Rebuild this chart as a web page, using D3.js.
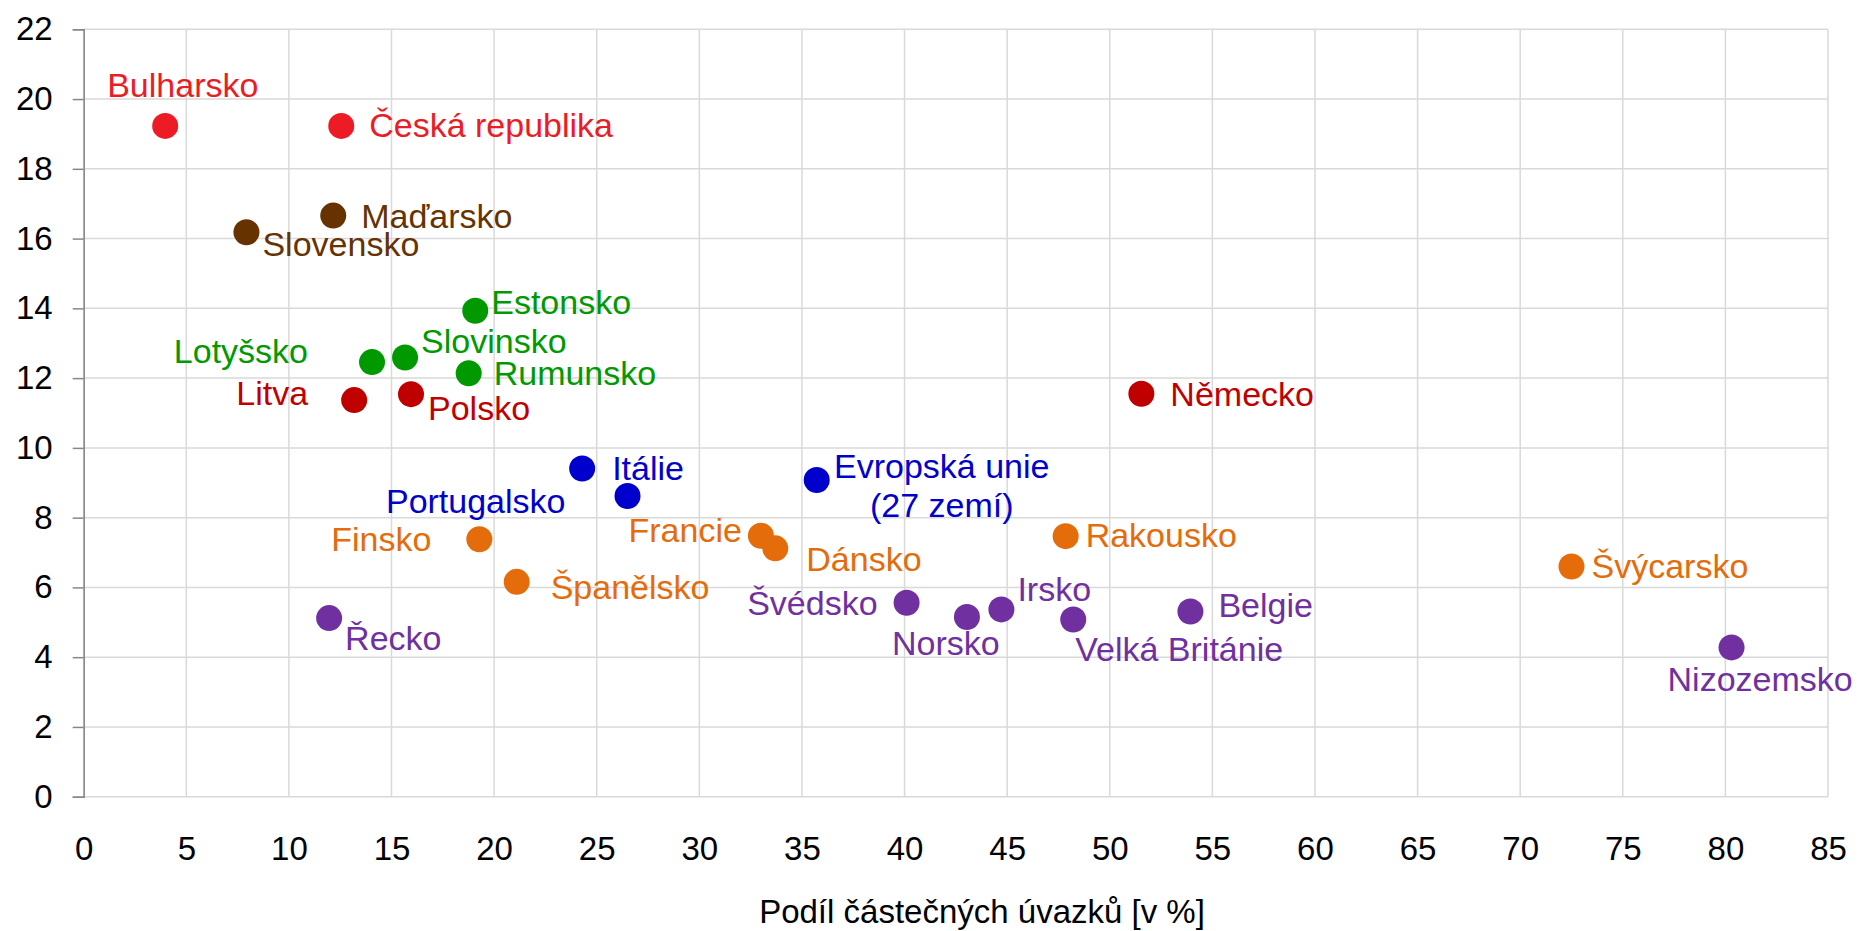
<!DOCTYPE html>
<html>
<head>
<meta charset="utf-8">
<script src="https://cdn.jsdelivr.net/npm/d3@7"></script>
<style>
    html, body { margin: 0; padding: 0; background: #ffffff; }
    svg { display: block; }
    text { font-family: "Liberation Sans", Arial, sans-serif; }
</style>
</head>
<body>
<svg id="chart"></svg>
<script>
// ////////////////////////////////////////////////////////////////
// data
// ////////////////////////////////////////////////////////////////
const countries = [
    'Bulharsko', 'Česká republika', 'Maďarsko', 'Slovensko',
    'Estonsko', 'Lotyšsko', 'Slovinsko', 'Rumunsko',
    'Litva', 'Polsko', 'Německo',
    'Itálie', 'Portugalsko', 'Evropská unie\n(27 zemí)',
    'Francie', 'Dánsko', 'Rakousko', 'Finsko', 'Španělsko', 'Švýcarsko',
    'Řecko', 'Švédsko', 'Norsko', 'Irsko', 'Velká Británie', 'Belgie', 'Nizozemsko'
];
// Podíl částečných úvazků [v %]
const partTimeShare = [
    3.97, 12.55, 12.16, 7.93,
    19.08, 14.05, 15.66, 18.76,
    13.18, 15.95, 51.54,
    24.29, 26.5, 35.72,
    33.0, 33.7, 47.85, 19.28, 21.1, 72.5,
    11.96, 40.1, 43.04, 44.72, 48.22, 53.93, 80.3
];
const yValues = [
    19.23, 19.23, 16.66, 16.18,
    13.93, 12.46, 12.59, 12.14,
    11.37, 11.54, 11.55,
    9.41, 8.62, 9.08,
    7.48, 7.12, 7.47, 7.38, 6.16, 6.6,
    5.12, 5.56, 5.15, 5.37, 5.08, 5.31, 4.28
];
const groups = [
    'red', 'red', 'brown', 'brown',
    'green', 'green', 'green', 'green',
    'darkred', 'darkred', 'darkred',
    'blue', 'blue', 'blue',
    'orange', 'orange', 'orange', 'orange', 'orange', 'orange',
    'purple', 'purple', 'purple', 'purple', 'purple', 'purple', 'purple'
];
const xTicks = d3.range(0, 86, 5);
const yTicks = d3.range(0, 23, 2);
const xTitle = 'Podíl částečných úvazků [v %]';

// label placement relative to the dot: [anchor, dx, dy]
const labelOffsets = [
    ['start', -58, -29], ['start', 28, 11], ['start', 28, 12], ['start', 16, 24],
    ['start', 16, 3], ['end', -64, 1], ['start', 16, -5], ['start', 25, 12],
    ['end', -46, 5], ['start', 17, 26], ['start', 29, 12],
    ['start', 30, 12], ['end', -62, 17], ['middle', 125, -2],
    ['end', -19, 6], ['start', 31, 23], ['start', 20, 11], ['end', -48, 12], ['start', 34, 17], ['start', 20, 12],
    ['start', 16, 32], ['end', -29, 12], ['start', -75, 38], ['start', 16, -8], ['start', 2, 42], ['start', 28, 6], ['start', -64, 44]
];

const colors = {
    red: '#ed1c24',
    brown: '#663300',
    green: '#009900',
    darkred: '#c00000',
    blue: '#0000cc',
    orange: '#e46c0a',
    purple: '#7030a0'
};

// ////////////////////////////////////////////////////////////////
// drawing
// ////////////////////////////////////////////////////////////////
const W = 1858, H = 931;
const margin = { top: 29.3, left: 83.7, right: W - 1828, bottom: H - 796.7 };
const w = W - margin.left - margin.right;
const h = H - margin.top - margin.bottom;

const svg = d3.select('#chart').attr('width', W).attr('height', H);
const g = svg.append('g').attr('transform', `translate(${margin.left},${margin.top})`);

const x = d3.scaleLinear().domain([0, 85]).range([0, w]);
const y = d3.scaleLinear().domain([0, 22]).range([h, 0]);

// grid
g.append('g').attr('class', 'grid-x')
    .selectAll('line').data(xTicks).enter().append('line')
    .attr('x1', (d) => x(d)).attr('x2', (d) => x(d))
    .attr('y1', 0).attr('y2', h)
    .attr('stroke', '#d9d9d9').attr('stroke-width', 1.5);

g.append('g').attr('class', 'grid-y')
    .selectAll('line').data(yTicks).enter().append('line')
    .attr('x1', 0).attr('x2', w)
    .attr('y1', (d) => y(d)).attr('y2', (d) => y(d))
    .attr('stroke', '#d9d9d9').attr('stroke-width', 1.5);

// axes
let xAxis = g.append('g')
    .attr('transform', `translate(0,${h})`)
    .call(d3.axisBottom(x).tickValues(xTicks).tickSize(0).tickPadding(40));
xAxis.select('.domain').remove();
xAxis.selectAll('text')
    .attr('font-size', 33).attr('fill', '#000000')
    .attr('font-family', '"Liberation Sans", Arial, sans-serif');

let yAxis = g.append('g')
    .call(d3.axisLeft(y).tickValues(yTicks).tickSize(11).tickPadding(20));
yAxis.select('.domain').attr('stroke', '#878787').attr('stroke-width', 1.5);
yAxis.selectAll('.tick line').attr('stroke', '#878787').attr('stroke-width', 1.5);
yAxis.selectAll('text')
    .attr('font-size', 33).attr('fill', '#000000')
    .attr('font-family', '"Liberation Sans", Arial, sans-serif');

// axis title (kept just inside the bottom edge)
svg.append('text')
    .attr('x', 982)
    .attr('y', 923)
    .attr('text-anchor', 'middle')
    .attr('font-size', 33)
    .attr('fill', '#000000')
    .text(xTitle);

// points
let points = countries.map((name, i) => {
    return { name: name, x: partTimeShare[i], y: yValues[i], color: colors[groups[i]], label: labelOffsets[i] };
});

g.append('g').attr('class', 'dots')
    .selectAll('circle').data(points).enter().append('circle')
    .attr('cx', (d) => x(d.x))
    .attr('cy', (d) => y(d.y))
    .attr('r', 13)
    .attr('fill', (d) => d.color);

let labels = g.append('g').attr('class', 'labels')
    .selectAll('text').data(points).enter().append('text')
    .attr('x', (d) => x(d.x) + d.label[1])
    .attr('y', (d) => y(d.y) + d.label[2])
    .attr('text-anchor', (d) => d.label[0])
    .attr('font-size', 34)
    .attr('fill', (d) => d.color);

labels.each(function (d) {
    let lines = d.name.split('\n');
    let sel = d3.select(this);
    lines.forEach((line, k) => {
        sel.append('tspan')
            .attr('x', x(d.x) + d.label[1])
            .attr('dy', k == 0 ? 0 : 38.6)
            .text(line);
    });
});
</script>
</body>
</html>
